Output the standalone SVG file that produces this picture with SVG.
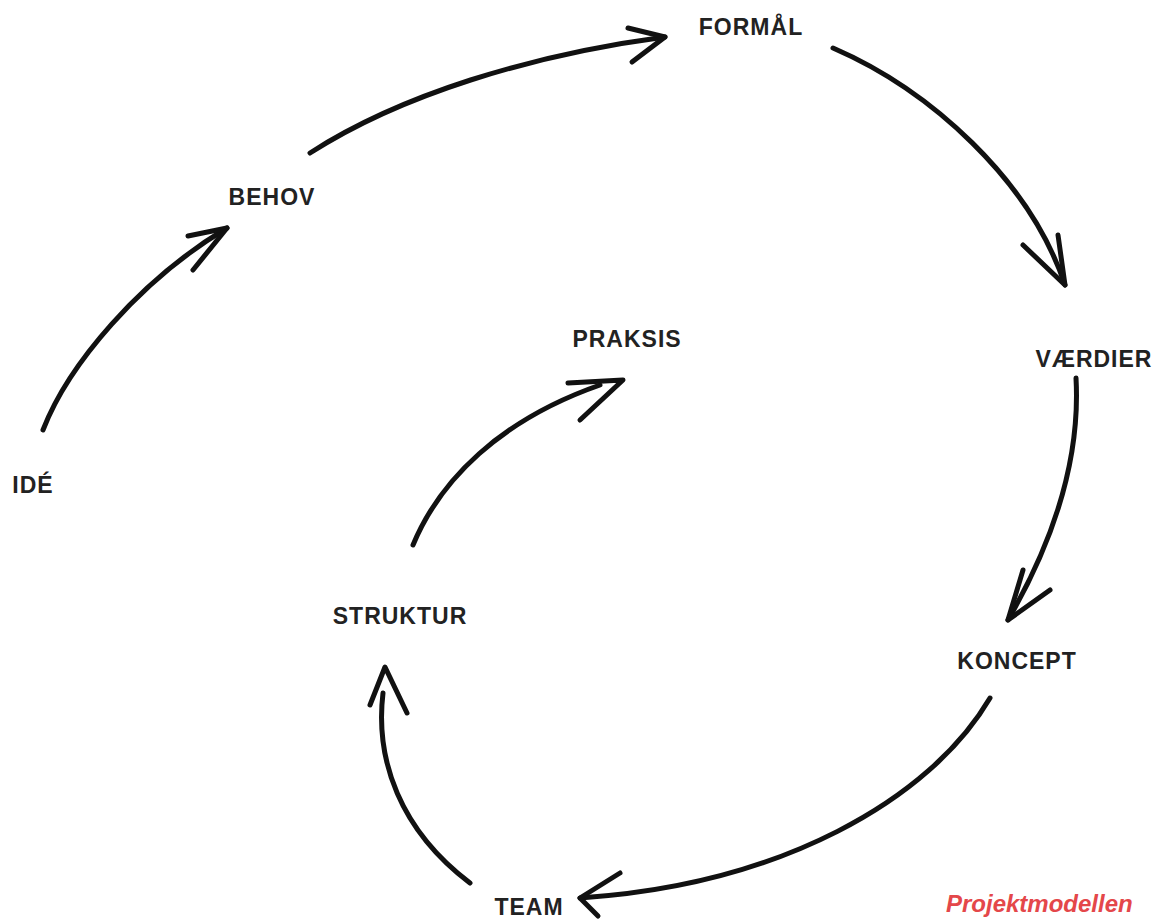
<svg xmlns="http://www.w3.org/2000/svg" width="1163" height="920" viewBox="0 0 1163 920">
<style>
.lbl{font-family:"Liberation Sans",Arial,sans-serif;font-weight:bold;font-size:23px;fill:#222;text-anchor:middle;letter-spacing:1px}
.arr{fill:none;stroke:#111;stroke-width:5;stroke-linecap:round;stroke-linejoin:round}
.title{font-family:"Liberation Sans",Arial,sans-serif;font-weight:bold;font-style:italic;font-size:24px;fill:#e4474a}
</style>
<rect width="1163" height="920" fill="#fff"/>
<g id="connectors">
  <g id="ide-behov"><path class="arr" d="M43,430 C68,365 140,280 227,228"/><path class="arr" d="M188,236 L227,228 L193,270"/></g>
  <g id="behov-formal"><path class="arr" d="M310,153 C400,95 530,55 665,37"/><path class="arr" d="M628,28 L665,37 L632,62"/></g>
  <g id="formal-vaerdier"><path class="arr" d="M833,48 C930,90 1030,180 1065,285"/><path class="arr" d="M1023,245 L1065,285 L1058,235"/></g>
  <g id="vaerdier-koncept"><path class="arr" d="M1076,378 C1080,450 1060,530 1008,620"/><path class="arr" d="M1023,570 L1008,620 L1050,590"/></g>
  <g id="koncept-team"><path class="arr" d="M990,698 C930,800 780,885 580,898"/><path class="arr" d="M620,873 L580,898 L598,916"/></g>
  <g id="team-struktur"><path class="arr" d="M470,883 C400,830 375,760 383,693"/><path class="arr" d="M370,705 L385,667 L407,713"/></g>
  <g id="struktur-praksis"><path class="arr" d="M413,545 C440,480 500,420 600,385"/><path class="arr" d="M568,383 L623,380 L580,420"/></g>
</g>
<g id="node-formal"><text class="lbl" x="751" y="35">FORMÅL</text></g>
<g id="node-behov"><text class="lbl" x="272" y="205">BEHOV</text></g>
<g id="node-praksis"><text class="lbl" x="627" y="347">PRAKSIS</text></g>
<g id="node-vaerdier"><text class="lbl" x="1094" y="367">VÆRDIER</text></g>
<g id="node-ide"><text class="lbl" x="33" y="493">IDÉ</text></g>
<g id="node-struktur"><text class="lbl" x="400" y="624">STRUKTUR</text></g>
<g id="node-koncept"><text class="lbl" x="1017" y="669">KONCEPT</text></g>
<g id="node-team"><text class="lbl" x="529" y="915">TEAM</text></g>
<g id="title"><text class="title" x="946" y="912">Projektmodellen</text></g>
</svg>
